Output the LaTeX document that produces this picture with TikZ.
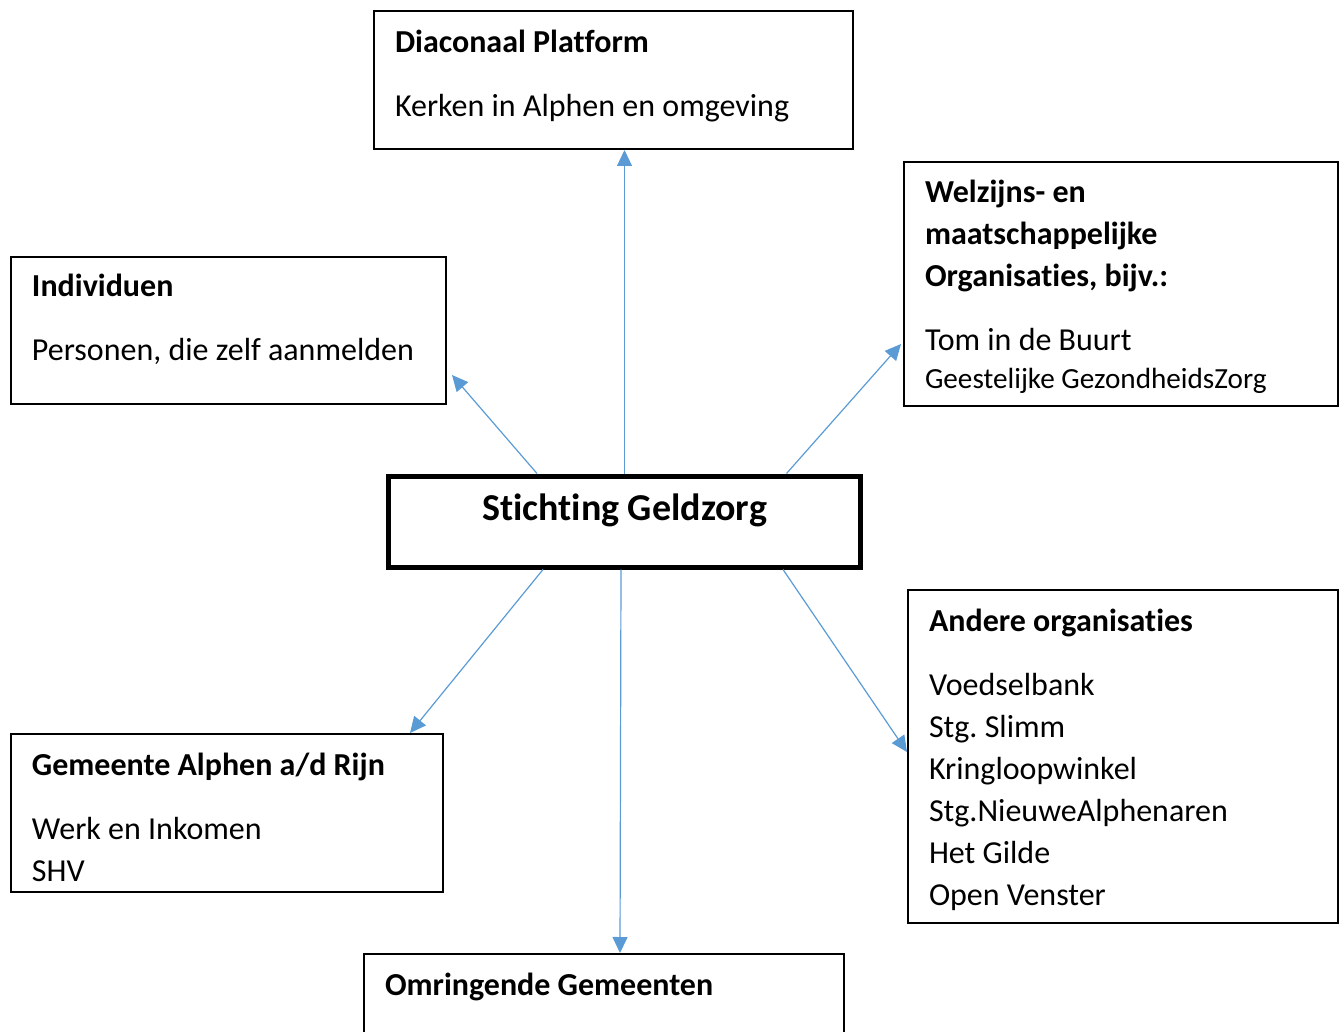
\documentclass[tikz,border=0pt]{standalone}
\usepackage{fontspec}
\setmainfont{Carlito}[Ligatures=NoCommon]
\usepackage{xcolor}
\usepackage{tikz}
\usetikzlibrary{arrows.meta,positioning,calc}
\definecolor{linkblue}{HTML}{5B9BD5}
\newcommand{\bodyfont}{\fontsize{16pt}{21pt}\selectfont}
\newcommand{\smallbody}{\fontsize{14.6pt}{19pt}\selectfont}
\tikzset{
  orgbox/.style={
    rectangle, draw=black, line width=1pt, anchor=north west,
    text width=#1, align=left, font=\bodyfont,
    inner xsep=10.5pt, inner ysep=0pt,
    execute at begin node={\frenchspacing\spaceskip=0pt\xspaceskip=0pt}
  },
  orgbox/.default=195pt,
  mainbox/.style={
    rectangle, draw=black, line width=2.5pt, anchor=north,
    minimum width=236pt, align=center,
    font=\fontsize{19pt}{22pt}\selectfont\bfseries,
    inner sep=0pt, text height=22.25pt, text depth=23.25pt,
    execute at begin node={\spaceskip=0pt\xspaceskip=0pt}
  },
  linkarrow/.style={
    -{Triangle[length=8pt,width=7.5pt]}, line width=0.6pt, color=linkblue
  },
}

\begin{document}
\begin{tikzpicture}[x=0.5pt, y=-0.5pt]
  \clip (0,0) rectangle (1344,1032);
  % centre
  \node[mainbox] (geldzorg) at (624.5,473.5) {Stichting Geldzorg};
  % surrounding boxes
  \node[orgbox=218.5pt, text height=21pt, text depth=48pt] (diacon) at (373,10)
    {\textbf{Diaconaal Platform}\\[11pt]Kerken in Alphen en omgeving};
  \node[orgbox=196.5pt, text height=20pt, text depth=53.5pt] (indiv) at (10,256)
    {\textbf{Individuen}\\[11pt]Personen, die zelf aanmelden};
  \node[orgbox=196pt, text height=20.5pt, text depth=101.5pt] (welzijn) at (903,161)
    {\textbf{Welzijns- en}\\\textbf{maatschappelijke}\\\textbf{Organisaties, bijv.:}\\[11pt]Tom in de Buurt\\[-2pt]{\smallbody Geestelijke GezondheidsZorg}};
  \node[orgbox=195pt, text height=20.5pt, text depth=58.5pt] (gemeente) at (10,733)
    {\textbf{Gemeente Alphen a/d Rijn}\\[11pt]Werk en Inkomen\\SHV};
  \node[orgbox=194pt, text height=20.5pt, text depth=146pt] (andere) at (907,589)
    {\textbf{Andere organisaties}\\[11pt]Voedselbank\\Stg. Slimm\\Kringloopwinkel\\Stg.NieuweAlphenaren\\Het Gilde\\Open Venster};
  \node[orgbox=219pt, text height=20.5pt, text depth=60pt] (omring) at (363,953)
    {\textbf{Omringende Gemeenten}};
  % arrows
  \draw[linkarrow] (geldzorg.north) -- (geldzorg.north |- diacon.south);
  \draw[linkarrow] ([xshift=-43.75pt]geldzorg.north) -- ([xshift=2.5pt,yshift=-22.25pt]indiv.east);
  \draw[linkarrow] ([xshift=81pt]geldzorg.north) -- ([xshift=-1pt,yshift=-30pt]welzijn.west);
  \draw[linkarrow] ([xshift=-40.75pt]geldzorg.south) -- ([xshift=-17pt]gemeente.north east);
  \draw[linkarrow] ([xshift=-1.75pt]geldzorg.south) -- ([xshift=8pt]omring.north);
  \draw[linkarrow] ([xshift=79.25pt]geldzorg.south) -- ([yshift=2.25pt]andere.west);
\end{tikzpicture}
\end{document}
